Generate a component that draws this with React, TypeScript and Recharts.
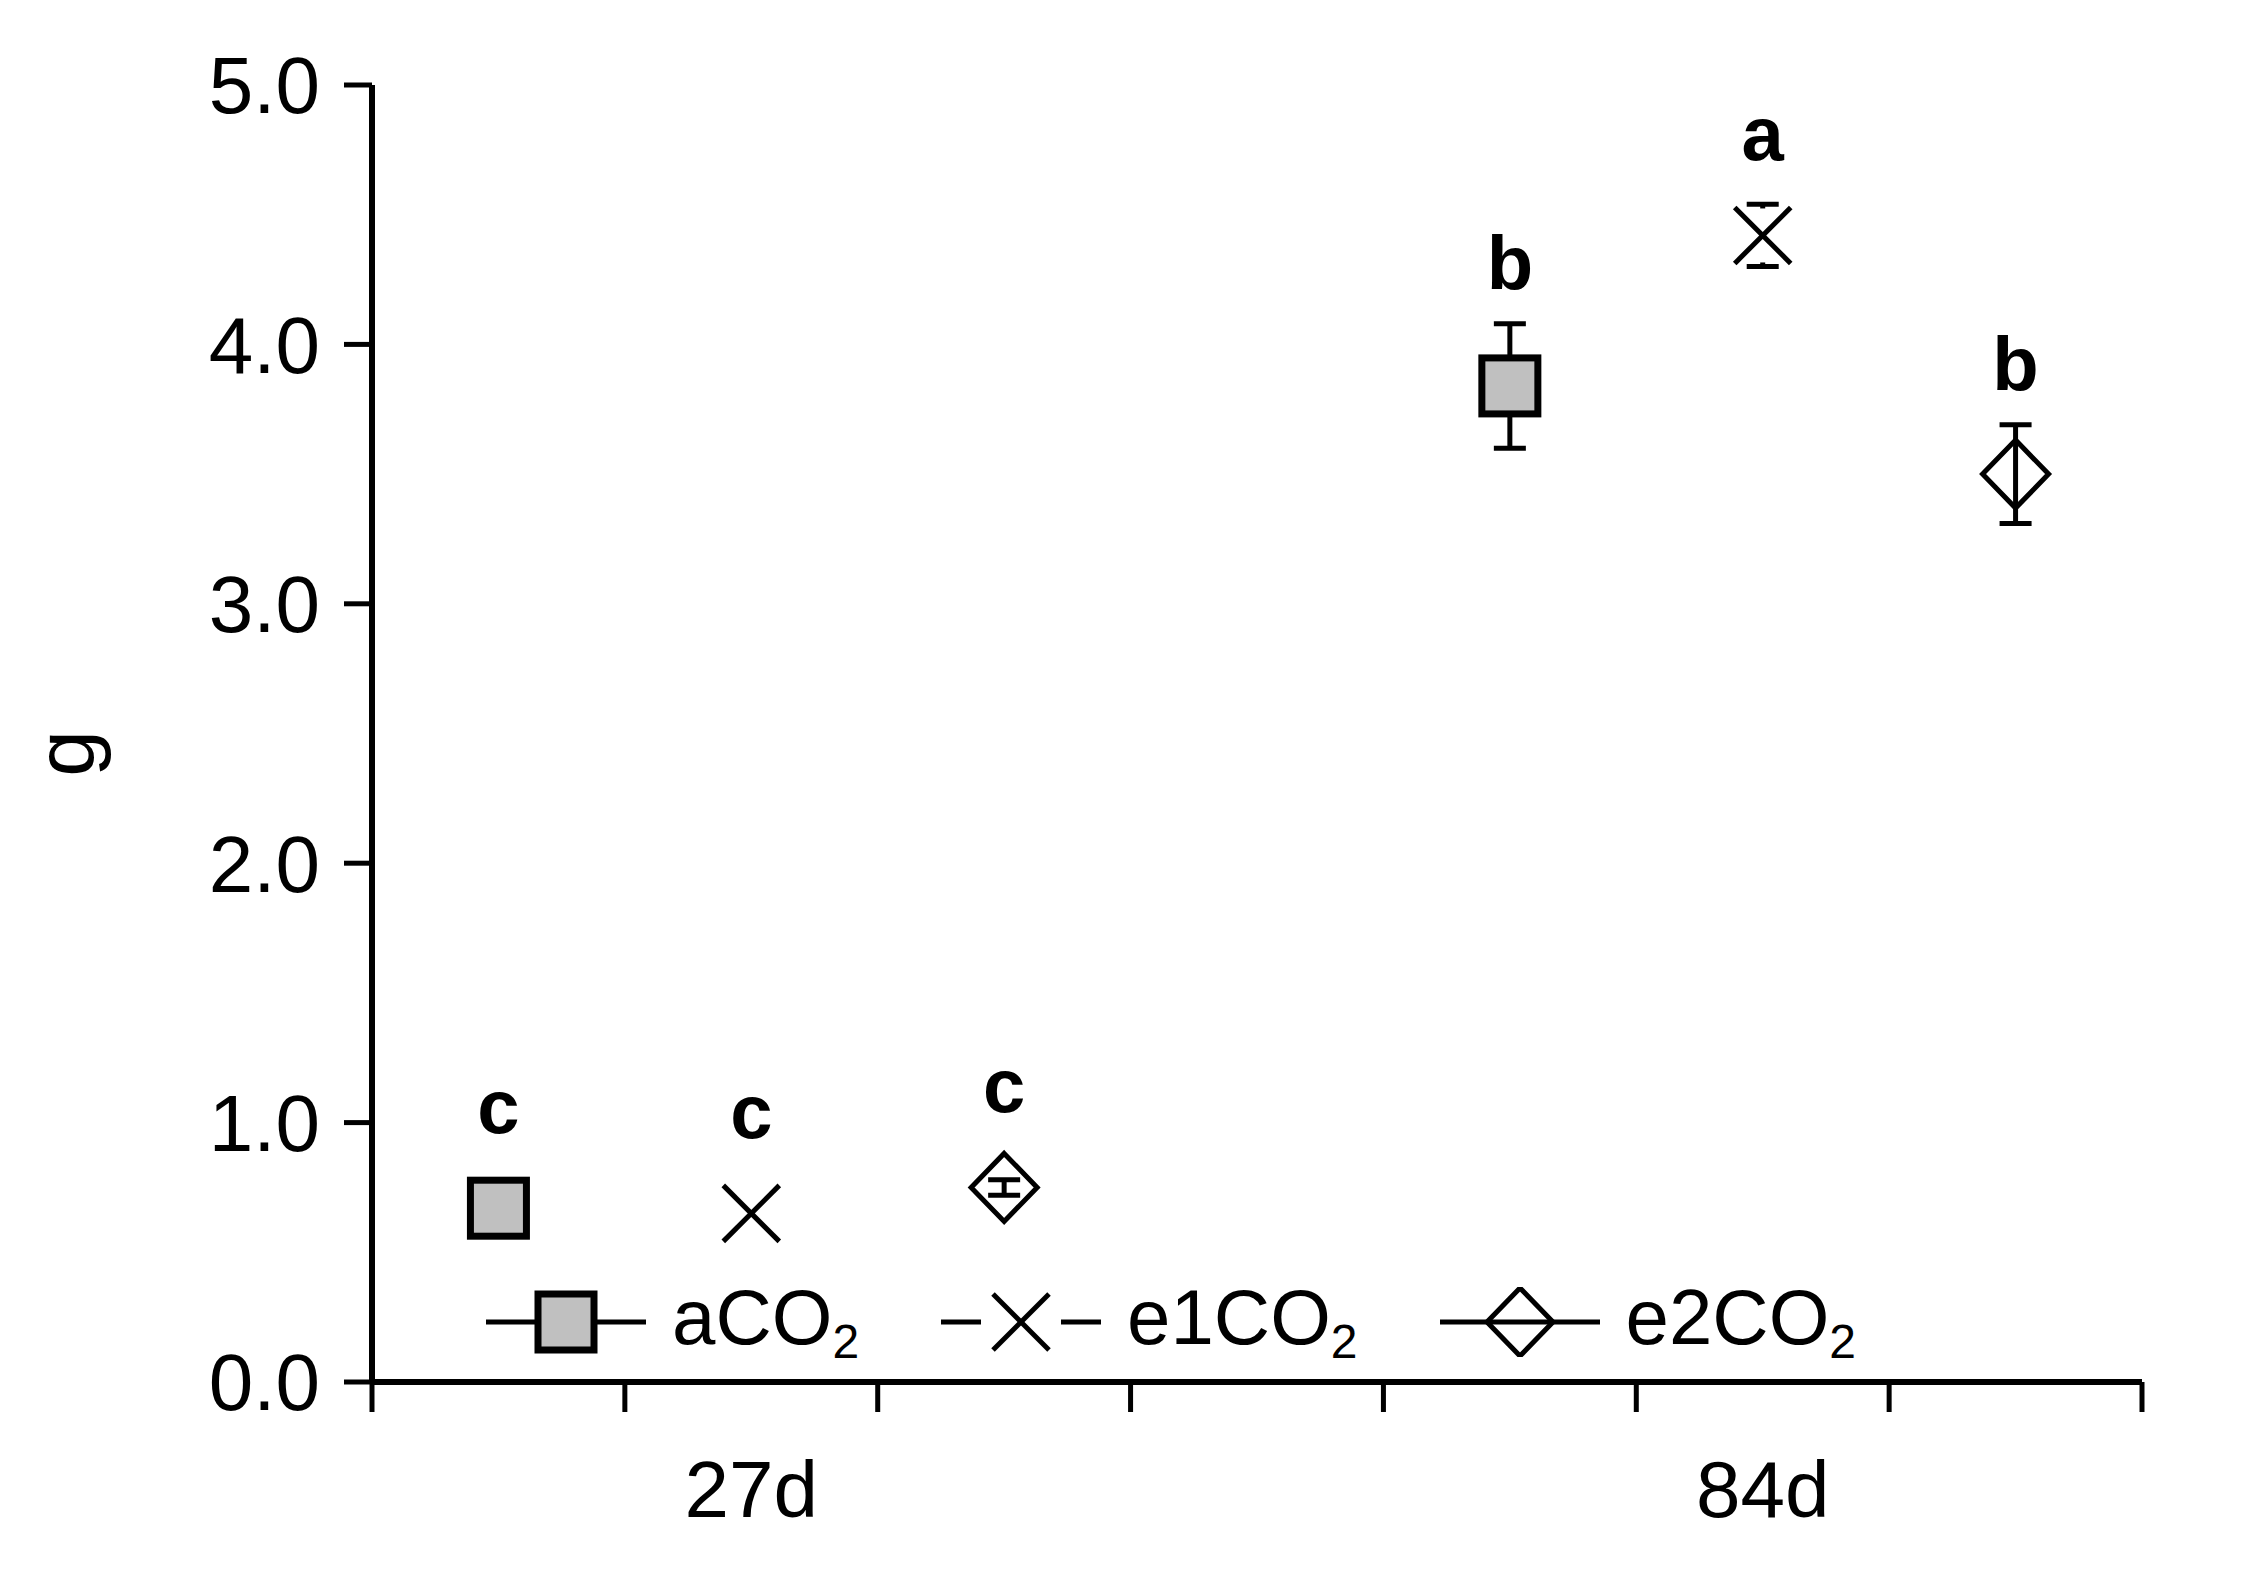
import React from 'react';
import { ScatterChart, Scatter, XAxis, YAxis, ErrorBar, Legend } from 'recharts';

// categories and series
const days = ['27d', '84d'];
const treatments = ['aCO2', 'e1CO2', 'e2CO2'];

const aCO2Mean = [0.67, 3.84];
const aCO2Err = [0.04, 0.24];
const aCO2Letters = ['c', 'b'];

const e1CO2Mean = [0.65, 4.42];
const e1CO2Err = [0, 0.12];
const e1CO2Letters = ['c', 'a'];

const e2CO2Mean = [0.75, 3.5];
const e2CO2Err = [0.03, 0.19];
const e2CO2Letters = ['c', 'b'];

const yTicks = [0, 1, 2, 3, 4, 5];

const CHART_W = 2254;
const CHART_H = 1576;
const MARGIN = { top: 85, right: 112, left: 0, bottom: 0 };
const X_AXIS_H = 194;
const Y_AXIS_W = 372;
const Y_MAX = 5;
const PX_PER_UNIT = (CHART_H - MARGIN.top - X_AXIS_H) / Y_MAX;
const FONT = '"Liberation Sans", Arial, Helvetica, sans-serif';

// each day takes 3 slots plus one empty slot between the days
const SLOTS_PER_DAY = treatments.length + 1;
const slotCount = days.length * SLOTS_PER_DAY - 1;
const boundaryTicks = Array.from({ length: slotCount + 1 }, (_, i) => i);
const dayCenters = days.map((_, d) => d * SLOTS_PER_DAY + treatments.length / 2);
const xTicks = [...boundaryTicks, ...dayCenters].sort((a, b) => a - b);

const buildSeries = (t: number, means: number[], errs: number[], letters: string[]) =>
  means.map((m, d) => ({
    x: d * SLOTS_PER_DAY + t + 0.5,
    y: m,
    err: errs[d],
    letter: letters[d],
  }));

const aCO2Data = buildSeries(0, aCO2Mean, aCO2Err, aCO2Letters);
const e1CO2Data = buildSeries(1, e1CO2Mean, e1CO2Err, e1CO2Letters);
const e2CO2Data = buildSeries(2, e2CO2Mean, e2CO2Err, e2CO2Letters);

type Kind = 'square' | 'cross' | 'diamond';

const MarkerGlyph = ({ kind, cx, cy }: { kind: Kind; cx: number; cy: number }) => {
  if (kind === 'square') {
    return <rect x={cx - 28} y={cy - 28} width={56} height={56} fill="#c0c0c0" stroke="#000" strokeWidth={7} />;
  }
  if (kind === 'cross') {
    return (
      <g>
        <rect x={cx - 40} y={cy - 27} width={80} height={54} fill="#fff" />
        <line x1={cx - 28} y1={cy - 28} x2={cx + 28} y2={cy + 28} stroke="#000" strokeWidth={5} />
        <line x1={cx - 28} y1={cy + 28} x2={cx + 28} y2={cy - 28} stroke="#000" strokeWidth={5} />
      </g>
    );
  }
  return (
    <polygon
      points={`${cx},${cy - 34} ${cx + 33},${cy} ${cx},${cy + 34} ${cx - 33},${cy}`}
      fill="none"
      stroke="#000"
      strokeWidth={5}
    />
  );
};

const makeShape = (kind: Kind) => (props: any) => {
  const { cx, cy, payload } = props;
  const lift = Math.max(payload.err * PX_PER_UNIT + 35, 75);
  return (
    <g>
      <MarkerGlyph kind={kind} cx={cx} cy={cy} />
      <text x={cx} y={cy - lift} textAnchor="middle" fontFamily={FONT} fontSize={76} fontWeight="bold" fill="#000">
        {payload.letter}
      </text>
    </g>
  );
};

const XTick = (props: any) => {
  const { x, y, payload } = props;
  const v = payload.value;
  if (Number.isInteger(v)) {
    return <line x1={x} y1={y} x2={x} y2={y + 30} stroke="#000" strokeWidth={5} />;
  }
  const label = days[Math.floor(v / SLOTS_PER_DAY)];
  return (
    <text x={x} y={y + 135} textAnchor="middle" fontFamily={FONT} fontSize={80} fill="#000">
      {label}
    </text>
  );
};

const YLabel = (props: any) => {
  const { viewBox } = props;
  const x = viewBox.x + 94;
  const y = viewBox.y + viewBox.height / 2 + 20;
  return (
    <text x={x} y={y} transform={`rotate(-90, ${x}, ${y})`} textAnchor="middle" fontFamily={FONT} fontSize={84} fill="#000">
      g
    </text>
  );
};

const kinds: Kind[] = ['square', 'cross', 'diamond'];

const LegendContent = (props: any) => {
  const { payload = [] } = props;
  return (
    <div style={{ display: 'flex', alignItems: 'center', fontFamily: FONT, fontSize: 78, lineHeight: 1, color: '#000' }}>
      {payload.map((entry: any, i: number) => {
        const name: string = entry.value;
        return (
          <div key={name} style={{ display: 'flex', alignItems: 'center', marginRight: 82 }}>
            <svg width={160} height={70}>
              <line x1={0} y1={35} x2={160} y2={35} stroke="#000" strokeWidth={5} />
              <MarkerGlyph kind={kinds[i]} cx={80} cy={35} />
            </svg>
            <span style={{ marginLeft: 26, whiteSpace: 'nowrap' }}>
              {name.slice(0, -1)}
              <sub style={{ fontSize: 48, verticalAlign: '-0.3em' }}>{name.slice(-1)}</sub>
            </span>
          </div>
        );
      })}
    </div>
  );
};

const App = () => {
  return (
    <div style={{ position: 'absolute', left: 0, top: 0, width: CHART_W, height: CHART_H, background: '#fff' }}>
      <ScatterChart width={CHART_W} height={CHART_H} margin={MARGIN}>
        <XAxis
          dataKey="x"
          type="number"
          domain={[0, slotCount]}
          ticks={xTicks}
          interval={0}
          height={X_AXIS_H}
          tickSize={0}
          tickMargin={0}
          tickLine={false}
          axisLine={{ stroke: '#000', strokeWidth: 6 }}
          tick={<XTick />}
        />
        <YAxis
          dataKey="y"
          type="number"
          domain={[0, Y_MAX]}
          ticks={yTicks}
          interval={0}
          width={Y_AXIS_W}
          tickSize={28}
          tickMargin={24}
          tickFormatter={(v: number) => v.toFixed(1)}
          axisLine={{ stroke: '#000', strokeWidth: 6 }}
          tickLine={{ stroke: '#000', strokeWidth: 5 }}
          tick={{ fill: '#000', fontSize: 80, fontFamily: FONT }}
          label={{ content: <YLabel /> }}
        />
        <Legend
          layout="horizontal"
          verticalAlign="middle"
          align="center"
          content={<LegendContent />}
          wrapperStyle={{ left: 486, top: 1278, width: 1600 }}
        />
        <Scatter name={treatments[0]} data={aCO2Data} shape={makeShape('square')} isAnimationActive={false}>
          <ErrorBar dataKey="err" direction="y" width={16} stroke="#000" strokeWidth={5} isAnimationActive={false} />
        </Scatter>
        <Scatter name={treatments[1]} data={e1CO2Data} shape={makeShape('cross')} isAnimationActive={false}>
          <ErrorBar dataKey="err" direction="y" width={16} stroke="#000" strokeWidth={5} isAnimationActive={false} />
        </Scatter>
        <Scatter name={treatments[2]} data={e2CO2Data} shape={makeShape('diamond')} isAnimationActive={false}>
          <ErrorBar dataKey="err" direction="y" width={16} stroke="#000" strokeWidth={5} isAnimationActive={false} />
        </Scatter>
      </ScatterChart>
    </div>
  );
};

export default App;
